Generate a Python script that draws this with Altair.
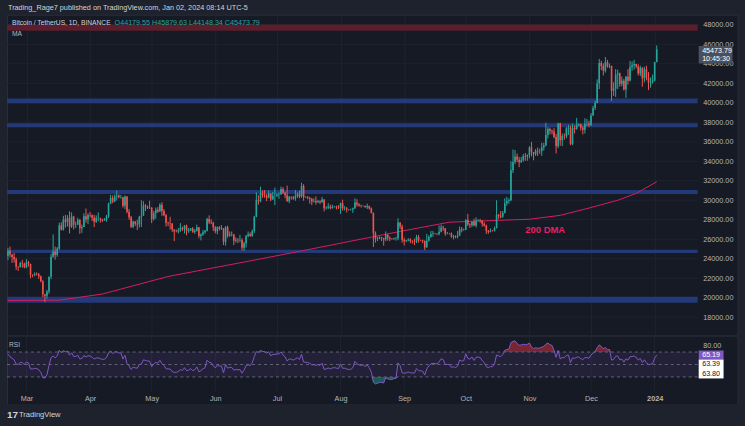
import altair as alt
import numpy as np
import pandas as pd

# ---------------- data ----------------
warmup_closes = [16620, 16680, 16670, 16850, 16830, 16950, 16940, 17120, 17180, 17440,
                 17940, 18850, 19930, 20950, 20870, 21190, 21130, 20680, 21070, 22670,
                 22780, 22710, 22920, 22630, 23060, 23010, 23080, 23030, 23740, 22830, 23130,
                 23730, 23490, 23430, 23330, 22930, 22760, 23240, 22960, 21800, 21630,
                 21860, 21780, 21780, 22200, 24330, 23740, 24570, 24630, 24280]
first_day = "2023-02-20"
first_open = 24280
last_open = 44179.55

feb_close = [24830, 24440, 24180, 23940, 23180, 23150, 23550, 23490, 23130]
feb_high = [25120, 25250, 24480, 24600, 24130, 23220, 23690, 23880, 23600]
feb_low = [23840, 24150, 23570, 23600, 22850, 22750, 23080, 23100, 23020]

mar_close = [23630, 23470, 22350, 22340, 22430, 22410, 22200, 21700, 20360, 20190,
             20630, 22160, 24200, 24750, 24380, 25050, 27430, 26970, 28040, 27760,
             28170, 27300, 28330, 27480, 27490, 27990, 27130, 27260, 28350, 28030, 28480]
mar_high = [23950, 23780, 23480, 22400, 22600, 22600, 22540, 22270, 21800, 20370,
            20800, 22180, 24500, 26500, 25250, 25200, 27700, 27750, 28400, 28500,
            28470, 28860, 28750, 28400, 27800, 28200, 28050, 27500, 28650, 29150, 28650]
mar_low = [23020, 23200, 22000, 22100, 22200, 22270, 21930, 21580, 20050, 19550,
           19900, 20400, 21900, 24100, 23900, 24200, 24900, 26900, 26900, 27200,
           27300, 26600, 27150, 27000, 27150, 27450, 26550, 26650, 27250, 27700, 27550]

apr_close = [28450, 28200, 27800, 28170, 28170, 28040, 27920, 27950, 28330, 29650,
             30240, 29880, 30390, 30480, 30310, 30320, 29440, 30390, 28820, 28250,
             27270, 27820, 27590, 27520, 28300, 28420, 29470, 29340, 29250, 29230]
apr_high = [28800, 28550, 28500, 28450, 28750, 28200, 28100, 28170, 28500, 29750,
            30550, 30500, 30600, 31000, 30600, 30550, 30350, 30500, 30400, 29100,
            28400, 27900, 27850, 28000, 28400, 30000, 29900, 29600, 29450, 29950]
apr_low = [28250, 27880, 27250, 27680, 27850, 27700, 27770, 27880, 27800, 28180,
           29600, 29700, 29800, 29980, 30200, 30150, 29250, 29100, 28650, 28000,
           27150, 27130, 27350, 26950, 27200, 27250, 28400, 28900, 29100, 29100]

may_close = [28070, 28670, 29030, 28850, 29530, 28900, 28450, 27690, 27630, 27620,
             26990, 26800, 26780, 26930, 27170, 27030, 27400, 26830, 26890, 27100,
             26750, 26850, 27220, 26330, 26480, 26720, 26870, 28080, 27740, 27700, 27210]
may_high = [29300, 28900, 29250, 29300, 29700, 29800, 29100, 28600, 27800, 28300,
            27650, 27050, 27000, 27150, 27650, 27300, 27450, 27500, 27150, 27150,
            27250, 27050, 27500, 27250, 26600, 26950, 26950, 28200, 28450, 28050, 27800]
may_low = [27650, 27900, 28100, 28700, 28800, 28400, 28350, 27300, 27350, 27000,
           26750, 25800, 26700, 26600, 26750, 26850, 26600, 26400, 26650, 26850,
           26650, 26550, 26800, 26100, 25880, 26350, 26550, 26800, 27550, 27550, 26850]

jun_close = [26820, 27250, 27070, 27120, 25730, 27230, 26340, 26500, 26480, 25850,
             25940, 25900, 25920, 25120, 25580, 26330, 26510, 26340, 26850, 28310,
             30000, 29890, 30690, 30530, 30470, 30270, 30690, 30080, 30450, 30470]
jun_high = [27350, 27300, 27350, 27450, 27150, 27350, 27400, 26800, 26800, 26550,
            26200, 26100, 26450, 26100, 25750, 26450, 26800, 26700, 27000, 28400,
            30800, 30500, 31400, 31000, 31050, 30650, 31000, 30700, 30850, 31300]
jun_low = [26600, 26500, 26900, 26950, 25400, 25350, 26150, 26250, 26300, 25400,
           25650, 25600, 25700, 24850, 24800, 25150, 26200, 26250, 26250, 26650,
           28250, 29550, 29800, 30250, 30250, 29900, 30200, 29900, 30050, 29500]

jul_close = [30590, 30620, 31160, 30770, 30510, 29900, 30350, 30290, 30170, 30410,
             30620, 30390, 31470, 30320, 30290, 30230, 30140, 29860, 29910, 29800,
             29900, 29790, 30080, 29180, 29230, 29350, 29210, 29310, 29350, 29280, 29230]
jul_high = [30700, 30800, 31400, 31330, 30880, 31500, 30450, 30400, 30450, 31050,
            30800, 30980, 31800, 31650, 30400, 30450, 30350, 30250, 30200, 30400,
            30050, 30000, 30350, 30100, 29400, 29700, 29550, 29550, 29400, 29450, 29500]
jul_low = [30350, 30150, 30550, 30650, 30200, 29850, 29700, 30050, 30050, 29950,
           30250, 30200, 30250, 29950, 30250, 30100, 29650, 29500, 29780, 29550,
           29720, 29600, 29750, 28850, 29050, 29100, 29050, 29120, 29250, 29050, 29100]

aug_close = [29700, 29170, 29180, 29070, 29040, 29040, 29180, 29770, 29560, 29430,
             29400, 29420, 29290, 29400, 29170, 28700, 26620, 26050, 26100, 26190,
             26120, 25990, 26430, 26160, 26060, 26010, 26090, 26100, 27720, 27300, 25940]
aug_high = [29750, 30050, 29400, 29300, 29100, 29150, 29250, 30200, 30100, 29700,
            29550, 29480, 29450, 29650, 29450, 29250, 28750, 26800, 26250, 26300,
            26250, 26150, 26800, 26550, 26300, 26100, 26150, 26250, 28150, 27750, 27500]
aug_low = [28600, 28950, 28950, 28750, 28950, 28950, 28700, 29100, 29350, 29350,
           29250, 29350, 29250, 29100, 29050, 28650, 25200, 25650, 25800, 26000,
           25800, 25350, 25800, 25850, 25800, 25970, 25980, 25850, 25900, 27050, 25650]

sep_close = [25800, 25870, 25970, 25810, 25780, 25750, 26240, 25900, 25890, 25830,
             25160, 25840, 26220, 26530, 26600, 26570, 26530, 26760, 27210, 27130,
             26570, 26580, 26580, 26250, 26300, 26210, 26350, 27020, 26910, 26970]
sep_high = [26150, 25950, 26100, 26100, 25900, 26050, 26450, 26450, 25950, 25950,
            25880, 26550, 26400, 26850, 26850, 26650, 26600, 27400, 27500, 27380,
            27150, 26750, 26650, 26700, 26450, 26400, 26850, 27300, 27250, 27100]
sep_low = [25350, 25700, 25800, 25600, 25550, 25400, 25600, 25650, 25800, 25600,
           24900, 25150, 25750, 26150, 26250, 26500, 26400, 26400, 26700, 26850,
           26350, 26500, 26500, 26150, 25990, 26100, 26100, 26350, 26700, 26900]

oct_close = [27990, 27500, 27430, 27790, 27410, 27930, 27960, 27920, 27590, 27390,
             26870, 26760, 26860, 26850, 27150, 28500, 28400, 28320, 28710, 29680,
             29920, 29990, 33070, 33920, 34500, 34150, 33890, 34090, 34530, 34480, 34640]
oct_high = [28050, 28600, 27650, 27850, 28100, 28250, 28050, 28100, 27950, 27750,
            27500, 26950, 27100, 26950, 27300, 30000, 28600, 28900, 28900, 30200,
            30350, 30200, 34000, 35200, 35150, 34800, 34450, 34450, 34750, 34850, 34700]
oct_low = [26950, 27350, 27150, 27250, 27350, 27200, 27850, 27700, 27300, 27300,
           26550, 26550, 26700, 26800, 26800, 27100, 28100, 28150, 28200, 28650,
           29450, 29650, 29900, 32800, 33700, 33900, 33400, 33850, 33950, 34050, 34050]

nov_close = [35420, 34940, 34730, 35080, 35020, 35050, 35420, 35620, 36690, 37320,
             37130, 37060, 36490, 35550, 37880, 36160, 36600, 36570, 37360, 37450,
             35760, 37420, 37290, 37720, 37800, 37450, 37240, 37830, 37850, 37720]
nov_high = [35550, 35980, 34950, 35250, 35400, 35300, 35900, 35900, 37950, 37500,
            37450, 37250, 37400, 36800, 37950, 37950, 36850, 36850, 37500, 37750,
            37650, 37850, 37650, 38450, 37900, 37850, 37600, 38400, 38350, 38150]
nov_low = [34300, 34500, 34100, 34550, 34550, 34750, 34550, 35100, 35550, 36350,
           36750, 36750, 36350, 34800, 35350, 35600, 35550, 36200, 36350, 36700,
           35650, 35650, 36850, 37250, 37600, 37150, 36750, 36850, 37600, 37500]

dec_close = [38690, 39460, 39980, 41980, 44080, 43770, 43290, 44170, 43720, 43790,
             41240, 41450, 42890, 43020, 41940, 42260, 41360, 42660, 42260, 43660,
             43860, 43990, 43730, 43010, 43610, 42520, 43440, 42580, 42070, 42140, 42280]
dec_high = [38950, 39700, 40200, 42400, 44500, 44300, 44050, 44700, 44400, 44050,
            43800, 42100, 43450, 43400, 43100, 42700, 42450, 42750, 43450, 44300,
            44250, 44400, 44000, 43950, 43800, 43600, 43700, 43800, 43150, 42600, 42900]
dec_low = [37600, 38650, 39250, 39950, 41400, 43350, 42800, 43100, 43600, 43550,
           40200, 40700, 40600, 41400, 41650, 41700, 41250, 40500, 41850, 42200,
           43300, 43400, 43550, 42800, 42750, 41650, 42100, 42300, 41300, 41550, 41950]

jan_close = [44180, 45473.79]
jan_high = [44200, 45879.63]
jan_low = [42200, 44148.34]

# 200-day moving average (day offset from 2023-02-01, price)
ma_day = [19, 44, 65, 97, 137, 162, 186, 210, 234, 259, 273, 288, 302, 316, 325, 335]
ma_price = [19720, 19750, 20380, 22180, 23780, 24800, 25800, 26800, 27750, 27950,
            28050, 28450, 29200, 30000, 30700, 31900]

# support / resistance zones (low, high)
blue_zones_low = [19490, 24600, 30630, 37480, 39940]
blue_zones_high = [20100, 24910, 31040, 37890, 40450]
red_zone_low = [47400]
red_zone_high = [48020]

price_ticks = list(range(18000, 50000, 2000))
month_starts = ["2023-03-01", "2023-04-01", "2023-05-01", "2023-06-01", "2023-07-01",
                "2023-08-01", "2023-09-01", "2023-10-01", "2023-11-01", "2023-12-01",
                "2024-01-01"]
month_labels = ["Mar", "Apr", "May", "Jun", "Jul", "Aug", "Sep", "Oct", "Nov", "Dec", "2024"]

header_text = "Trading_Rage7 published on TradingView.com, Jan 02, 2024 08:14 UTC-5"
symbol_text = "Bitcoin / TetherUS, 1D, BINANCE"
ohlc_text = "O44179.55 H45879.63 L44148.34 C45473.79"
last_price_text = "45473.79"
countdown_text = "10:45:30"
rsi_labels = ["65.19", "63.39", "63.80"]

# ---------------- styling ----------------
OUTER = "#1e222d"
INNER = "#161a25"
BORDER = "#2a2e39"
GRID = "#1f2330"
TXT = "#b2b5be"
UP = "#26a69a"
DOWN = "#ef5350"
BLUE = "#243b7c"
RED = "#5e1f2c"
MA_COL = "#d81b60"
RSI_COL = "#7e57c2"

# ---------------- frames ----------------
closes = (feb_close + mar_close + apr_close + may_close + jun_close + jul_close +
          aug_close + sep_close + oct_close + nov_close + dec_close + jan_close)
highs = (feb_high + mar_high + apr_high + may_high + jun_high + jul_high +
         aug_high + sep_high + oct_high + nov_high + dec_high + jan_high)
lows = (feb_low + mar_low + apr_low + may_low + jun_low + jul_low +
        aug_low + sep_low + oct_low + nov_low + dec_low + jan_low)
assert len(closes) == len(highs) == len(lows)

ref = pd.Timestamp("2023-02-01")
dates = pd.date_range(first_day, periods=len(closes), freq="D")
opens = [first_open] + closes[:-1]
opens[-1] = last_open

cdf = pd.DataFrame({"d": (dates - ref).days, "open": opens, "high": highs,
                    "low": lows, "close": closes})
cdf["high"] = cdf[["high", "open", "close"]].max(axis=1)
cdf["low"] = cdf[["low", "open", "close"]].min(axis=1)
cdf["blo"] = cdf[["open", "close"]].min(axis=1)
cdf["bhi"] = cdf[["open", "close"]].max(axis=1)
cdf["dir"] = np.where(cdf["close"] >= cdf["open"], "up", "down")

# RSI(14), Wilder smoothing
allc = pd.Series(warmup_closes + closes, dtype=float)
delta = allc.diff()
gain = delta.clip(lower=0)
loss = -delta.clip(upper=0)
ag = gain.ewm(alpha=1 / 14, adjust=False).mean()
al = loss.ewm(alpha=1 / 14, adjust=False).mean()
rsi_all = 100 - 100 / (1 + ag / al)
rsi_vals = rsi_all.iloc[len(warmup_closes):].values
rdf = pd.DataFrame({"d": cdf["d"], "rsi": rsi_vals})
rdf["ob"] = np.maximum(rdf["rsi"], 70)
rdf["os"] = np.minimum(rdf["rsi"], 30)
rdf["c70"] = 70
rdf["c30"] = 30

month_days = [int((pd.Timestamp(m) - ref).days) for m in month_starts]
last_month_day = month_days[-1]

X0, X1 = 18.53, 354.94
xs = alt.Scale(domain=[X0, X1], range=[0, 693], nice=False, zero=False)
ys = alt.Scale(domain=[16115, 49039], nice=False, zero=False)
yr = alt.Scale(domain=[6.8, 96.4], range=[56, 0], nice=False, zero=False)

x_axis_main = alt.Axis(values=month_days, grid=True, gridColor=GRID, labels=False,
                       ticks=False, domain=False, title=None)
y_axis_main = alt.Axis(orient="right", offset=-38, values=price_ticks, format=".2f",
                       labelColor=TXT, labelFontSize=7.3, labelPadding=3, ticks=False,
                       domain=False, grid=False, title=None, labelOverlap=False,
                       labelAlign="left")

# ---------------- main panel ----------------
hgrid = alt.Chart(pd.DataFrame({"p": price_ticks, "x0": X0, "x1": X1})).mark_rule(
    color=GRID, strokeWidth=1).encode(
    x=alt.X("x0:Q", scale=xs, axis=x_axis_main), x2="x1:Q",
    y=alt.Y("p:Q", scale=ys, axis=y_axis_main))

bz = pd.DataFrame({"lo": blue_zones_low, "hi": blue_zones_high, "x0": X0, "x1": X1})
blue_bands = alt.Chart(bz).mark_rect(color=BLUE, opacity=0.95).encode(
    x=alt.X("x0:Q", scale=xs, axis=x_axis_main), x2="x1:Q",
    y=alt.Y("lo:Q", scale=ys, axis=y_axis_main), y2="hi:Q")
rz = pd.DataFrame({"lo": red_zone_low, "hi": red_zone_high, "x0": X0, "x1": X1})
red_band = alt.Chart(rz).mark_rect(color=RED, opacity=0.95).encode(
    x=alt.X("x0:Q", scale=xs, axis=x_axis_main), x2="x1:Q",
    y=alt.Y("lo:Q", scale=ys, axis=y_axis_main), y2="hi:Q")

ma_line = alt.Chart(pd.DataFrame({"d": ma_day, "ma": ma_price})).mark_line(
    color=MA_COL, strokeWidth=1).encode(
    x=alt.X("d:Q", scale=xs, axis=x_axis_main),
    y=alt.Y("ma:Q", scale=ys, axis=y_axis_main))

col = alt.Color("dir:N", scale=alt.Scale(domain=["up", "down"], range=[UP, DOWN]), legend=None)
wicks = alt.Chart(cdf).mark_rule(strokeWidth=1).encode(
    x=alt.X("d:Q", scale=xs, axis=x_axis_main),
    y=alt.Y("low:Q", scale=ys, axis=y_axis_main), y2="high:Q", color=col)
bodies = alt.Chart(cdf).mark_rule(strokeWidth=1.6).encode(
    x=alt.X("d:Q", scale=xs, axis=x_axis_main),
    y=alt.Y("blo:Q", scale=ys, axis=y_axis_main), y2="bhi:Q", color=col)

dma_label = alt.Chart(pd.DataFrame({"d": [280.7], "p": [26950], "t": ["200 DMA"]})).mark_text(
    color="#e91e63", fontSize=9.5, fontWeight="bold", align="center", baseline="middle").encode(
    x=alt.X("d:Q", scale=xs, axis=x_axis_main),
    y=alt.Y("p:Q", scale=ys, axis=y_axis_main), text="t:N")

sym_txt = alt.Chart(pd.DataFrame({"t": [symbol_text]})).mark_text(
    color="#d1d4dc", fontSize=6.7, align="left", baseline="middle").encode(
    x=alt.value(5), y=alt.value(8), text="t:N")
ohlc_txt = alt.Chart(pd.DataFrame({"t": [ohlc_text]})).mark_text(
    color=UP, fontSize=7.2, align="left", baseline="middle").encode(
    x=alt.value(108), y=alt.value(8), text="t:N")
ma_txt = alt.Chart(pd.DataFrame({"t": ["MA"]})).mark_text(
    color=TXT, fontSize=6.7, align="left", baseline="middle").encode(
    x=alt.value(5), y=alt.value(19), text="t:N")

pbox = alt.Chart(pd.DataFrame({"k": [1]})).mark_rect(color="#4b4f5b").encode(
    x=alt.value(694), x2=alt.value(728), y=alt.value(31.5), y2=alt.value(49))
ptxt = alt.Chart(pd.DataFrame({"t": [last_price_text, countdown_text],
                               "yy": [36, 44.5]})).mark_text(
    color="#ffffff", fontSize=7.2, align="left", baseline="middle").encode(
    x=alt.value(697.5), y=alt.Y("yy:Q", scale=None, axis=None), text="t:N")

main = alt.layer(hgrid, blue_bands, red_band, ma_line, wicks, bodies, dma_label,
                 sym_txt, ohlc_txt, ma_txt, pbox, ptxt).properties(
    width=733, height=322,
    view=alt.ViewBackground(fill=INNER, stroke=BORDER, strokeWidth=1))

# ---------------- RSI panel ----------------
label_expr = ("[" + ",".join("'%s'" % s for s in month_labels) + "][indexof(["
              + ",".join(str(v) for v in month_days) + "], datum.value)]")
x_axis_rsi = alt.Axis(values=month_days, labelExpr=label_expr, grid=False, ticks=False,
                      domain=False, offset=-13, labelColor=TXT, labelFontSize=7.3,
                      labelPadding=3, title=None, labelFlush=False, labelOverlap=False,
                      labelFontWeight={"condition": {"test": "datum.value == %d" % last_month_day,
                                                     "value": "bold"},
                                       "value": "normal"})
y_axis_rsi = alt.Axis(orient="right", offset=-38, values=[80], format=".2f",
                      labelColor=TXT, labelFontSize=7.3, labelPadding=3, ticks=False,
                      domain=False, grid=False, title=None, labelAlign="left")

XR = alt.X("d:Q", scale=xs, axis=x_axis_rsi)
vgrid = alt.Chart(pd.DataFrame({"d": month_days, "y0": 6.8, "y1": 96.4})).mark_rule(
    color=GRID, strokeWidth=1).encode(
    x=XR, y=alt.Y("y0:Q", scale=yr, axis=y_axis_rsi), y2="y1:Q")
rband = alt.Chart(pd.DataFrame({"x0": [X0], "x1": [X1], "lo": [30], "hi": [70]})).mark_rect(
    color=RSI_COL, opacity=0.12).encode(
    x=alt.X("x0:Q", scale=xs, axis=x_axis_rsi), x2="x1:Q",
    y=alt.Y("lo:Q", scale=yr, axis=y_axis_rsi), y2="hi:Q")
rlevels = alt.Chart(pd.DataFrame({"lvl": [70, 50, 30], "x0": X0, "x1": X1})).mark_rule(
    color="#787b86", strokeWidth=1, strokeDash=[3, 3], opacity=0.75).encode(
    x=alt.X("x0:Q", scale=xs, axis=x_axis_rsi), x2="x1:Q",
    y=alt.Y("lvl:Q", scale=yr, axis=y_axis_rsi))
ob_area = alt.Chart(rdf).mark_area(color="#f23645", opacity=0.45).encode(
    x=XR, y=alt.Y("ob:Q", scale=yr, axis=y_axis_rsi), y2="c70:Q")
os_area = alt.Chart(rdf).mark_area(color="#22ab94", opacity=0.45).encode(
    x=XR, y=alt.Y("os:Q", scale=yr, axis=y_axis_rsi), y2="c30:Q")
rsi_line = alt.Chart(rdf).mark_line(color=RSI_COL, strokeWidth=1).encode(
    x=XR, y=alt.Y("rsi:Q", scale=yr, axis=y_axis_rsi))
rsi_name = alt.Chart(pd.DataFrame({"t": ["RSI"]})).mark_text(
    color=TXT, fontSize=6.7, align="left", baseline="middle").encode(
    x=alt.value(2), y=alt.value(9), text="t:N")
rbox1 = alt.Chart(pd.DataFrame({"k": [1]})).mark_rect(color=RSI_COL).encode(
    x=alt.value(694), x2=alt.value(719), y=alt.value(15), y2=alt.value(24))
rbox2 = alt.Chart(pd.DataFrame({"k": [1]})).mark_rect(color="#ffffff").encode(
    x=alt.value(694), x2=alt.value(719), y=alt.value(24), y2=alt.value(43))
rtxt = alt.Chart(pd.DataFrame({"t": rsi_labels, "yy": [19.5, 29, 38.5],
                               "c": ["#ffffff", "#131722", "#131722"]})).mark_text(
    fontSize=7.2, align="center", baseline="middle").encode(
    x=alt.value(706.5), y=alt.Y("yy:Q", scale=None, axis=None), text="t:N",
    color=alt.Color("c:N", scale=None, legend=None))

rsi_panel = alt.layer(vgrid, rband, rlevels, ob_area, os_area, rsi_line, rsi_name,
                      rbox1, rbox2, rtxt).properties(
    width=733, height=69,
    view=alt.ViewBackground(fill=INNER, stroke=BORDER, strokeWidth=1))

# ---------------- header / footer ----------------
header = alt.Chart(pd.DataFrame({"t": [header_text]})).mark_text(
    color="#d1d4dc", fontSize=7.3, align="left", baseline="middle").encode(
    x=alt.value(1), y=alt.value(7), text="t:N").properties(
    width=733, height=14, view=alt.ViewBackground(fill=OUTER, strokeWidth=0))

logo = alt.Chart(pd.DataFrame({"t": ["17"]})).mark_text(
    color="#d1d4dc", fontSize=10, fontWeight="bold", align="left", baseline="middle").encode(
    x=alt.value(0), y=alt.value(11), text="t:N")
brand = alt.Chart(pd.DataFrame({"t": ["TradingView"]})).mark_text(
    color="#d1d4dc", fontSize=7.6, align="left", baseline="middle").encode(
    x=alt.value(12), y=alt.value(11), text="t:N")
footer = alt.layer(logo, brand).properties(
    width=733, height=21, view=alt.ViewBackground(fill=OUTER, strokeWidth=0))

chart = alt.vconcat(header, main, rsi_panel, footer, spacing=0, bounds="flush").configure(
    background=OUTER,
    padding={"left": 5, "right": 6.5, "top": 0, "bottom": 0},
    font="Liberation Sans",
).configure_view(stroke="transparent")

chart.save("out.html", embed_options={"renderer": "svg", "actions": False})
